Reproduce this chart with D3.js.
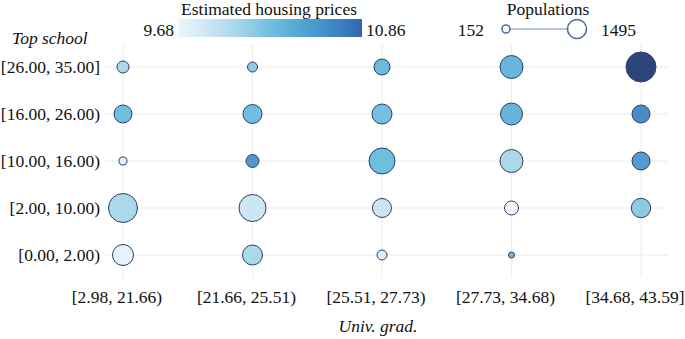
<!DOCTYPE html>
<html>
<head>
<meta charset="utf-8">
<script src="https://cdn.jsdelivr.net/npm/d3@7"></script>
<style>
  body { margin: 0; background: #fff; }
  text { font-family: "Times New Roman", "Liberation Serif", Times, serif; font-size: 17.5px; fill: #111; }
</style>
</head>
<body>
<svg id="chart" width="685" height="339"></svg>
<script>
"use strict"

// x bins (Univ. grad.) and y bins (Top school)
const univBins = ["[2.98, 21.66)", "[21.66, 25.51)", "[25.51, 27.73)", "[27.73, 34.68)", "[34.68, 43.59]"]
const schoolBins = ["[26.00, 35.00]", "[16.00, 26.00)", "[10.00, 16.00)", "[2.00, 10.00)", "[0.00, 2.00)"]

// estimated housing prices, one row per school bin (top to bottom), one column per univ bin
const prices = [
    [10.00, 10.10, 10.22, 10.25, 10.86],
    [10.20, 10.20, 10.18, 10.26, 10.50],
    [9.72, 10.45, 10.20, 10.00, 10.42],
    [10.00, 9.85, 9.85, 9.68, 10.10],
    [9.72, 10.00, 9.78, 10.22, null]
]

// populations, same layout
const populations = [
    [488, 376, 712, 1103, 1495],
    [823, 879, 935, 1047, 823],
    [264, 544, 1271, 1103, 823],
    [1439, 1327, 879, 600, 902],
    [991, 935, 376, 152, null]
]

const priceRange = [9.68, 10.86]
const popRange = [152, 1495]

const svg = d3.select("#chart")

const x = d3.scalePoint().domain(univBins).range([123, 641])
const y = d3.scalePoint().domain(schoolBins).range([67, 255])
const r = d3.scaleLinear().domain(popRange).range([3, 15])
const color = d3.scaleLinear()
    .domain([9.68, 9.85, 10.0, 10.2, 10.45, 10.6, 10.86])
    .range(["#eef6fc", "#c9e4f2", "#a4d6e8", "#62b8dc", "#3f8fc9", "#3569b3", "#1b3570"])

const plot = {left: 105, right: 668, top: 45, bottom: 278}

// grid
svg.append("g").selectAll("line.v")
    .data(univBins)
    .enter().append("line")
    .attr("x1", d => x(d)).attr("x2", d => x(d))
    .attr("y1", plot.top).attr("y2", plot.bottom)
    .style("stroke", "#ececec").style("stroke-width", 1)

svg.append("g").selectAll("line.h")
    .data(schoolBins)
    .enter().append("line")
    .attr("x1", plot.left).attr("x2", plot.right)
    .attr("y1", d => y(d)).attr("y2", d => y(d))
    .style("stroke", "#ececec").style("stroke-width", 1)

// bubbles
const cells = []
for (let i = 0; i < schoolBins.length; ++i) {
    for (let j = 0; j < univBins.length; ++j) {
        if (prices[i][j] === null) continue
        cells.push({row: schoolBins[i], col: univBins[j], price: prices[i][j], pop: populations[i][j]})
    }
}

svg.append("g").selectAll("circle")
    .data(cells)
    .enter().append("circle")
    .attr("cx", d => x(d.col))
    .attr("cy", d => y(d.row))
    .attr("r", d => r(d.pop))
    .style("fill", d => color(d.price))
    .style("fill-opacity", 0.92)
    .style("stroke", "#2d3f6a")
    .style("stroke-width", 1)

// axis labels
svg.append("g").selectAll("text")
    .data(schoolBins)
    .enter().append("text")
    .attr("x", 100).attr("y", d => y(d))
    .attr("dy", "0.35em")
    .attr("text-anchor", "end")
    .text(d => d)

svg.append("g").selectAll("text")
    .data(univBins)
    .enter().append("text")
    .attr("x", d => x(d) - 6).attr("y", 303)
    .attr("text-anchor", "middle")
    .text(d => d)

svg.append("text").attr("x", 12).attr("y", 44)
    .style("font-style", "italic")
    .text("Top school")

svg.append("text").attr("x", 378).attr("y", 332)
    .attr("text-anchor", "middle")
    .style("font-style", "italic")
    .text("Univ. grad.")

// colour legend
const defs = svg.append("defs")
const grad = defs.append("linearGradient").attr("id", "priceGrad")
d3.range(0, 1.0001, 0.1).forEach(t => {
    grad.append("stop")
        .attr("offset", t)
        .attr("stop-color", color(priceRange[0] + t * 0.8 * (priceRange[1] - priceRange[0])))
})
const legX = d3.scaleLinear().domain(priceRange).range([178, 362])
svg.append("rect")
    .attr("x", legX(priceRange[0])).attr("y", 19)
    .attr("width", legX(priceRange[1]) - legX(priceRange[0])).attr("height", 18)
    .style("fill", "url(#priceGrad)")
svg.append("text").attr("x", 269).attr("y", 15).attr("text-anchor", "middle")
    .text("Estimated housing prices")
svg.append("text").attr("x", legX(priceRange[0]) - 4).attr("y", 36).attr("text-anchor", "end")
    .text(priceRange[0].toFixed(2))
svg.append("text").attr("x", legX(priceRange[1]) + 4).attr("y", 36)
    .text(priceRange[1].toFixed(2))

// size legend
const popX = d3.scaleLinear().domain(popRange).range([506, 577])
const popR = d3.scaleLinear().domain(popRange).range([4, 9.5])
svg.append("line")
    .attr("x1", popX(popRange[0])).attr("x2", popX(popRange[1]))
    .attr("y1", 29).attr("y2", 29)
    .style("stroke", "#7089bb").style("stroke-width", 1.2)
svg.append("g").selectAll("circle")
    .data(popRange)
    .enter().append("circle")
    .attr("cx", d => popX(d)).attr("cy", 29).attr("r", d => popR(d))
    .style("fill", "#fff").style("stroke", "#4f6fa8").style("stroke-width", 1.6)
svg.append("text").attr("x", 548).attr("y", 15).attr("text-anchor", "middle")
    .text("Populations")
svg.append("text").attr("x", 484).attr("y", 36).attr("text-anchor", "end")
    .text(popRange[0])
svg.append("text").attr("x", 601).attr("y", 36)
    .text(popRange[1])
</script>
</body>
</html>
